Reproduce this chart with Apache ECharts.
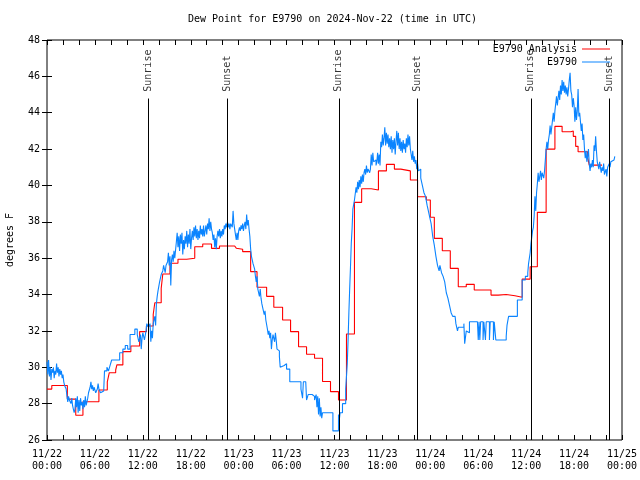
<!DOCTYPE html>
<html>
<head>
<meta charset="utf-8">
<script src="https://cdn.jsdelivr.net/npm/echarts@6/dist/echarts.min.js"></script>
<style>html,body{margin:0;padding:0;background:#fff}#c{width:640px;height:480px}</style>
</head>
<body>
<div id="c"></div>
<script>
// Hours since 2024-11-22 00:00 UTC
const dayLabels = ['11/22', '11/23', '11/24', '11/25'];
const hourLabels = ['00:00', '06:00', '12:00', '18:00'];
const yTicks = [26, 28, 30, 32, 34, 36, 38, 40, 42, 44, 46, 48];

const sunTimes = [12.66, 22.59, 36.54, 46.4, 60.58, 70.4];
const sunNames = ['Sunrise', 'Sunset', 'Sunrise', 'Sunset', 'Sunrise', 'Sunset'];

// Analysis (hourly step values): [hour the value starts, dew point F]
const analysis = [
  [0, 28.8], [0.6, 29.0], [2.55, 28.25], [3.6, 27.36], [4.5, 28.1], [6.5, 28.75], [7.55, 29.2],
  [7.8, 29.7], [8.6, 29.85], [8.75, 30.13], [9.5, 30.86], [10.5, 31.17], [11.6, 31.96],
  [12.45, 32.27], [13.3, 32.9], [13.5, 33.55], [14.3, 34.34], [14.5, 35.13], [15.4, 35.72],
  [16.4, 35.94], [17.5, 36.0], [18.5, 36.63], [19.5, 36.78], [20.6, 36.54], [21.6, 36.67],
  [23.5, 36.6], [23.7, 36.55], [23.9, 36.49], [24.5, 36.36], [25.5, 35.26], [26.3, 34.4],
  [27.5, 33.9], [28.4, 33.3], [29.5, 32.6], [30.5, 31.96], [31.5, 31.13], [32.5, 30.72],
  [33.5, 30.5], [34.5, 29.22], [35.5, 28.66], [36.5, 28.2], [37.5, 31.83], [38.5, 39.07],
  [39.4, 39.82], [40.6, 39.75], [41.5, 40.8], [42.5, 41.16], [43.5, 40.9], [44.3, 40.8],
  [45.5, 40.3], [46.4, 39.38], [47.5, 39.2], [48.0, 38.25], [48.5, 37.09], [49.5, 36.41],
  [50.5, 35.44], [51.5, 34.43], [52.5, 34.56], [53.5, 34.25], [55.6, 33.97], [56.5, 34.0],
  [57.5, 33.93], [58.6, 33.85], [59.5, 34.85], [60.5, 35.53], [61.4, 38.52], [62.5, 42.0],
  [63.6, 43.25], [64.5, 42.95], [65.6, 43.0], [65.9, 42.7], [66.2, 42.15], [66.5, 41.85],
  [67.7, 41.55], [67.9, 41.12], [69.5, 41.1]
];

// Observations: [hour, dew point F]
const observed = [
  [0.0,30.3],[0.1,29.6],[0.2,30.4],[0.3,29.5],[0.4,30.0],[0.5,29.3],[0.6,29.9],[0.7,29.7],[0.8,30.0],[0.9,29.4],
  [1.0,29.8],[1.1,29.6],[1.2,30.2],[1.3,29.7],[1.4,30.0],[1.5,29.5],[1.6,29.9],[1.7,29.6],[1.8,29.8],[1.9,29.4],
  [2.0,29.6],[2.1,29.2],[2.2,29.0],[2.4,28.8],[2.5,28.4],[2.6,28.1],[2.7,28.4],[2.8,28.2],[2.9,28.3],[3.0,28.0],
  [3.1,28.3],[3.2,27.9],[3.3,27.7],[3.4,27.5],[3.5,27.7],[3.6,28.3],[3.7,27.8],[3.8,28.4],[3.9,27.5],[4.0,28.2],
  [4.1,27.6],[4.2,28.3],[4.3,27.9],[4.4,28.1],[4.5,27.7],[4.6,28.2],[4.7,27.8],[4.8,28.4],[4.9,27.9],[5.0,28.1],
  [5.1,28.3],[5.2,28.6],[5.3,28.5],[5.4,28.9],[5.5,29.2],[5.6,28.8],[5.7,29.0],[5.8,28.7],[5.9,28.9],[6.1,28.6],
  [6.3,28.8],[6.4,29.1],[6.5,28.8],[6.7,28.6],[6.9,28.7],[7.1,28.8],[7.2,29.8],[7.5,30.0],[7.7,29.8],[7.9,30.1],
  [8.1,30.4],[9.1,30.8],[9.5,31.0],[9.8,31.2],[10.1,31.0],[10.4,31.8],[11.0,32.1],[11.3,31.8],[11.5,31.4],[11.7,31.8],
  [11.8,31.0],[11.9,31.6],[12.0,31.9],[12.2,31.5],[12.4,32.0],[12.5,32.4],[12.7,32.2],[12.9,32.4],[13.0,31.4],[13.1,32.0],
  [13.2,31.6],[13.3,32.4],[13.5,32.8],[13.6,32.3],[13.7,33.5],[13.8,33.9],[13.9,34.2],[14.1,34.7],[14.3,35.1],[14.5,35.3],
  [14.6,35.6],[14.8,35.2],[14.9,35.6],[15.0,35.5],[15.1,35.8],[15.2,36.3],[15.3,35.6],[15.4,36.1],[15.5,34.5],[15.6,35.9],
  [15.7,36.2],[15.8,35.8],[15.9,36.4],[16.0,36.0],[16.2,36.9],[16.3,37.4],[16.4,36.6],[16.5,37.2],[16.6,36.4],[16.7,37.3],
  [16.8,36.8],[16.9,37.4],[17.0,36.2],[17.1,37.0],[17.2,36.5],[17.3,37.2],[17.4,36.8],[17.5,37.5],[17.6,36.6],[17.7,37.3],
  [17.8,36.8],[17.9,37.6],[18.0,36.5],[18.1,37.1],[18.2,37.5],[18.3,37.0],[18.4,37.7],[18.5,37.2],[18.6,37.8],[18.7,37.1],
  [18.8,37.6],[18.9,37.0],[19.0,37.5],[19.1,37.1],[19.2,37.8],[19.3,37.3],[19.4,37.6],[19.5,37.2],[19.6,37.8],[19.7,37.2],
  [19.8,37.5],[19.9,37.8],[20.0,37.3],[20.1,37.9],[20.2,37.6],[20.3,38.2],[20.4,37.5],[20.5,38.0],[20.6,37.6],[20.7,37.4],
  [20.8,37.0],[20.9,37.3],[21.0,36.6],[21.1,37.1],[21.2,36.5],[21.3,37.2],[21.4,37.5],[21.5,37.2],[21.6,37.6],[21.7,37.1],
  [21.8,37.5],[21.9,37.2],[22.0,37.6],[22.1,37.3],[22.2,37.8],[22.3,37.6],[22.4,37.9],[22.5,37.7],[22.6,38.0],[22.7,37.7],
  [22.8,37.9],[22.9,37.6],[23.0,37.9],[23.2,37.7],[23.3,38.6],[23.4,37.9],[23.5,37.6],[23.6,37.3],[23.7,37.0],[23.8,37.4],
  [23.9,37.0],[24.0,37.5],[24.1,37.7],[24.2,37.5],[24.3,37.8],[24.4,37.6],[24.5,37.9],[24.6,37.5],[24.7,37.8],[24.8,38.0],
  [24.9,37.6],[25.0,38.4],[25.1,37.8],[25.2,38.1],[25.3,37.6],[25.4,37.2],[25.5,36.5],[25.6,36.1],[25.8,35.7],[26.0,35.4],
  [26.1,35.0],[26.2,34.7],[26.3,35.0],[26.4,34.3],[26.5,34.2],[26.6,33.9],[26.7,34.3],[26.8,33.8],[26.9,33.5],[27.0,33.3],
  [27.2,32.9],[27.3,33.1],[27.4,32.6],[27.5,32.5],[27.6,32.1],[27.7,31.8],[27.8,32.0],[27.9,31.6],[28.0,31.9],[28.1,31.0],
  [28.2,31.5],[28.3,31.8],[28.4,31.9],[28.5,31.4],[28.6,31.9],[28.7,31.5],[28.8,31.0],[28.9,30.9],[29.1,30.6],[29.2,30.0],
  [29.3,30.1],[29.7,30.2],[30.0,29.9],[30.4,29.2],[31.8,28.8],[32.0,28.3],[32.1,29.2],[32.4,29.1],[32.5,28.2],[32.7,28.5],
  [33.2,28.4],[33.5,28.2],[33.7,28.5],[33.8,27.8],[33.9,28.4],[34.0,27.4],[34.1,28.3],[34.2,27.3],[34.3,27.8],[34.4,27.2],
  [34.5,27.5],[35.8,26.5],[36.5,27.4],[36.6,27.1],[36.7,27.5],[37.0,28.0],[37.4,28.8],[37.5,29.5],[37.6,30.2],[37.7,31.5],
  [37.8,33.0],[37.9,34.3],[38.0,35.5],[38.1,36.8],[38.2,37.6],[38.3,38.7],[38.5,39.2],[38.7,39.9],[38.8,39.6],[38.9,40.2],
  [39.0,39.8],[39.1,40.3],[39.2,39.9],[39.3,40.5],[39.4,40.1],[39.5,40.6],[39.6,40.2],[39.7,40.7],[39.8,40.9],[39.9,40.6],
  [40.0,41.1],[40.1,40.7],[40.2,40.9],[40.4,40.7],[40.5,40.9],[40.6,41.7],[40.7,41.1],[40.8,41.8],[40.9,41.3],[41.0,41.4],
  [41.2,41.1],[41.3,41.3],[41.4,41.8],[41.5,41.2],[41.6,41.7],[41.7,41.1],[41.8,42.4],[41.9,42.1],[42.0,42.8],[42.1,42.2],
  [42.2,42.6],[42.3,43.2],[42.4,42.2],[42.5,42.9],[42.6,42.3],[42.7,42.8],[42.8,42.1],[42.9,42.6],[43.0,42.0],[43.1,42.7],
  [43.2,41.8],[43.3,42.5],[43.4,42.0],[43.5,42.6],[43.6,41.7],[43.7,42.4],[43.8,43.0],[43.9,42.2],[44.0,42.9],[44.1,42.0],
  [44.2,42.6],[44.3,41.9],[44.4,42.4],[44.5,41.8],[44.6,42.5],[44.7,42.0],[44.8,42.3],[44.9,41.8],[45.0,42.6],[45.1,42.1],
  [45.2,42.8],[45.3,42.2],[45.4,42.7],[45.5,42.0],[45.6,41.9],[45.7,41.4],[45.8,41.9],[45.9,41.3],[46.0,41.6],[46.1,41.2],
  [46.2,41.4],[46.3,40.9],[46.4,41.2],[46.5,40.8],[46.6,40.9],[46.8,40.4],[47.0,40.0],[47.2,39.6],[47.4,39.4],[47.6,38.9],
  [47.8,38.5],[47.9,38.3],[48.1,37.9],[48.3,37.2],[48.5,36.7],[48.7,36.1],[48.9,35.6],[49.1,35.3],[49.2,35.6],[49.4,35.2],
  [49.6,35.0],[49.8,34.7],[50.0,34.1],[50.2,33.8],[50.4,33.4],[50.6,33.0],[50.8,32.8],[51.1,32.9],[51.2,32.4],[51.4,32.0],
  [51.5,32.2],[52.2,32.4],[52.3,31.3],[52.5,32.0],[52.6,31.9],[52.9,32.5],[53.9,32.5],[54.0,31.5],[54.1,32.5],[54.2,31.5],
  [54.3,32.5],[54.6,31.5],[54.7,32.5],[54.9,31.5],[55.0,32.5],[55.4,31.5],[55.5,32.5],[55.9,31.5],[56.0,32.5],[56.2,31.5],
  [57.5,31.7],[57.6,32.3],[57.8,32.8],[58.9,33.7],[59.5,34.8],[59.9,35.0],[60.2,35.2],[60.3,35.7],[60.5,36.3],[60.6,36.8],
  [60.8,37.5],[60.9,37.7],[61.0,38.3],[61.1,39.4],[61.2,38.6],[61.3,39.6],[61.4,40.1],[61.5,40.7],[61.6,40.2],[61.7,40.5],
  [61.8,40.8],[61.9,40.3],[62.0,40.7],[62.2,40.4],[62.3,40.8],[62.5,42.0],[62.6,42.4],[62.7,42.0],[62.8,42.5],[62.9,42.8],
  [63.0,43.3],[63.1,42.8],[63.2,43.2],[63.3,43.6],[63.4,44.0],[63.5,43.5],[63.6,44.1],[63.7,44.5],[63.8,44.9],[63.9,44.4],
  [64.0,44.8],[64.1,45.2],[64.2,44.7],[64.3,45.5],[64.4,45.0],[64.5,45.8],[64.6,45.2],[64.7,45.7],[64.8,45.1],[64.9,45.5],
  [65.0,45.0],[65.1,45.4],[65.2,44.9],[65.3,45.3],[65.4,45.8],[65.5,46.2],[65.6,45.2],[65.7,45.0],[65.8,44.3],[65.9,44.8],
  [66.0,44.4],[66.1,43.5],[66.2,44.3],[66.3,43.6],[66.4,44.1],[66.5,45.3],[66.6,43.8],[66.7,44.0],[66.8,43.5],[66.9,43.0],
  [67.0,43.4],[67.1,42.5],[67.2,42.8],[67.3,42.0],[67.4,41.5],[67.5,41.9],[67.6,41.3],[67.7,41.6],[67.8,42.0],[67.9,41.2],
  [68.0,40.8],[68.1,41.2],[68.2,41.0],[68.3,41.4],[68.4,41.0],[68.5,42.2],[68.6,41.9],[68.7,42.7],[68.8,41.9],[68.9,41.3],
  [69.0,41.1],[69.1,40.9],[69.2,41.3],[69.3,41.2],[69.4,40.7],[69.5,41.0],[69.6,40.8],[69.7,41.2],[69.8,40.6],[70.0,40.9],
  [70.1,40.5],[70.2,41.0],[70.4,41.2],[70.5,41.0],[70.6,41.3],[70.8,41.4],[71.0,41.5],[71.1,41.6]
];

const FONT = 'DejaVu Sans Mono';
const chart = echarts.init(document.getElementById('c'), null, {renderer: 'canvas'});

function xLabel(v) {
  if (v % 6 !== 0) return '';
  return dayLabels[Math.floor(v / 24)] + '\n' + hourLabels[(v % 24) / 6];
}

const tickStyle = {show: true, inside: true, length: 5, lineStyle: {color: '#000', width: 1}};
const sunLineTop = 44.78;
const sunLabelBase = 45.1;
const legendText = {fontFamily: FONT, fontSize: 10, color: '#000'};

chart.setOption({
  animation: false,
  backgroundColor: '#fff',
  title: {
    text: 'Dew Point for E9790 on 2024-Nov-22 (time in UTC)',
    left: 188, top: 14, padding: 0,
    textStyle: {fontFamily: FONT, fontSize: 10, fontWeight: 'normal', color: '#000'}
  },
  legend: [
    {data: ['E9790 Analysis'], right: 30, top: 44, padding: 0, align: 'right', icon: 'rect',
     itemWidth: 28, itemHeight: 1, textStyle: legendText},
    {data: ['E9790'], right: 30, top: 57, padding: 0, align: 'right', icon: 'rect',
     itemWidth: 28, itemHeight: 1, textStyle: legendText}
  ],
  grid: {left: 47, right: 18, top: 40, bottom: 40, outerBoundsMode: 'none', containLabel: false,
         show: true, borderColor: '#000', borderWidth: 1, backgroundColor: 'transparent'},
  xAxis: [
    {type: 'value', min: 0, max: 72, interval: 2, position: 'bottom',
     axisLine: {show: false}, splitLine: {show: false}, axisTick: tickStyle,
     axisLabel: {formatter: xLabel, fontFamily: FONT, fontSize: 10, color: '#000', lineHeight: 12, margin: 8,
                 showMinLabel: true, showMaxLabel: true}},
    {type: 'value', min: 0, max: 72, interval: 2, position: 'top',
     axisLine: {show: false}, splitLine: {show: false}, axisTick: tickStyle, axisLabel: {show: false}}
  ],
  yAxis: [
    {type: 'value', min: yTicks[0], max: yTicks[yTicks.length - 1], interval: 2, position: 'left',
     name: 'degrees F', nameLocation: 'middle', nameGap: 32, nameRotate: 90,
     nameTextStyle: {fontFamily: FONT, fontSize: 10, color: '#000'},
     axisLine: {show: false}, splitLine: {show: false}, axisTick: tickStyle,
     axisLabel: {fontFamily: FONT, fontSize: 10, color: '#000', margin: 7}},
    {type: 'value', min: yTicks[0], max: yTicks[yTicks.length - 1], interval: 2, position: 'right',
     axisLine: {show: false}, splitLine: {show: false}, axisTick: tickStyle, axisLabel: {show: false}}
  ],
  series: [
    {
      type: 'scatter', name: 'sun', symbolSize: 0, silent: true,
      data: sunTimes.map((t, i) => ({value: [t, sunLabelBase], name: sunNames[i]})),
      label: {show: true, position: 'inside', rotate: 90, align: 'left', verticalAlign: 'middle',
              formatter: p => p.name, fontFamily: FONT, fontSize: 10, color: '#000', offset: [1, 0]},
      markLine: {
        silent: true, symbol: ['none', 'none'], animation: false,
        label: {show: false},
        lineStyle: {color: '#000', width: 1, type: 'solid'},
        data: sunTimes.map(t => [{coord: [t, yTicks[0]]}, {coord: [t, sunLineTop]}])
      }
    },
    {
      type: 'line', name: 'E9790 Analysis', data: analysis, step: 'end',
      symbol: 'none', showSymbol: false,
      lineStyle: {color: '#ff0000', width: 1.1}, itemStyle: {color: '#ff0000'}
    },
    {
      type: 'line', name: 'E9790', data: observed, step: 'end',
      symbol: 'none', showSymbol: false,
      lineStyle: {color: '#0a84ff', width: 1.1}, itemStyle: {color: '#0a84ff'}
    }
  ]
});
</script>
</body>
</html>
